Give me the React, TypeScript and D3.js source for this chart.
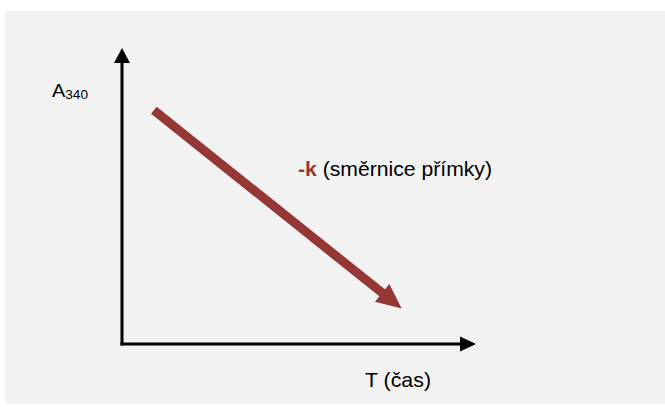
import React from "react";
import * as d3 from "d3";

// Schematic: absorbance A340 decreasing linearly with time T
const axisLabels = ["A", "340", "T (čas)"];
const slopeLabel = ["-k", " (směrnice přímky)"];
// trend arrow endpoints in data units (time, absorbance)
const trendT = [9, 79];
const trendA = [79, 12];
const domainT = [0, 100];
const domainA = [0, 100];

const W = 665;
const H = 407;
const RED = "#953735";

export default function App() {
  const x = d3.scaleLinear().domain(domainT).range([122, 476]);
  const y = d3.scaleLinear().domain(domainA).range([344, 48]);

  const x0 = x(domainT[0]);
  const y0 = y(domainA[0]);
  const xEnd = x(domainT[1]);
  const yEnd = y(domainA[1]);

  // axis arrow heads
  const yHeadLen = 15, yHeadHalf = 8;
  const xHeadLen = 16, xHeadHalf = 7.5;

  // trend arrow
  const sx = x(trendT[0]), sy = y(trendA[0]);
  const ex = x(trendT[1]), ey = y(trendA[1]);
  const dx = ex - sx, dy = ey - sy;
  const len = Math.hypot(dx, dy);
  const ux = dx / len, uy = dy / len;
  const px = -uy, py = ux;
  const headLen = 25, headHalf = 11.5;
  const bx = ex - ux * headLen, by = ey - uy * headLen;
  const line = d3.line();
  const headPath =
    line([
      [ex, ey],
      [bx + px * headHalf, by + py * headHalf],
      [bx - px * headHalf, by - py * headHalf],
    ]) + "Z";

  return (
    <svg
      width={W}
      height={H}
      style={{ position: "absolute", left: 0, top: 0, display: "block" }}
      fontFamily="'Liberation Sans', Arial, sans-serif"
    >
      <rect x={0} y={0} width={W} height={H} fill="#ffffff" />
      <rect x={5} y={11} width={W - 5} height={393} fill="#f2f2f2" />

      {/* Y axis */}
      <line x1={x0} y1={y0 + 1.5} x2={x0} y2={yEnd + yHeadLen - 1} stroke="#000" strokeWidth={3} />
      <path
        d={line([[x0, yEnd], [x0 + yHeadHalf, yEnd + yHeadLen], [x0 - yHeadHalf, yEnd + yHeadLen]]) + "Z"}
        fill="#000"
      />
      {/* X axis */}
      <line x1={x0 - 1.5} y1={y0} x2={xEnd - xHeadLen + 1} y2={y0} stroke="#000" strokeWidth={3} />
      <path
        d={line([[xEnd, y0], [xEnd - xHeadLen, y0 - xHeadHalf], [xEnd - xHeadLen, y0 + xHeadHalf]]) + "Z"}
        fill="#000"
      />

      {/* Trend arrow */}
      <line
        x1={sx}
        y1={sy}
        x2={bx + ux * 2}
        y2={by + uy * 2}
        stroke={RED}
        strokeWidth={9}
        strokeLinecap="butt"
      />
      <path d={headPath} fill={RED} />

      {/* Labels */}
      <text x={52} y={97} fontSize={19} fill="#000" textLength={36} lengthAdjust="spacingAndGlyphs">
        {axisLabels[0]}
        <tspan fontSize={13} dy={2}>{axisLabels[1]}</tspan>
      </text>
      <text x={298} y={176} fontSize={20} fill="#000" textLength={194} lengthAdjust="spacingAndGlyphs">
        <tspan fill={RED} fontWeight="bold">{slopeLabel[0]}</tspan>
        <tspan>{slopeLabel[1]}</tspan>
      </text>
      <text x={365} y={387} fontSize={21} fill="#000" textLength={66} lengthAdjust="spacingAndGlyphs">
        {axisLabels[2]}
      </text>
    </svg>
  );
}
